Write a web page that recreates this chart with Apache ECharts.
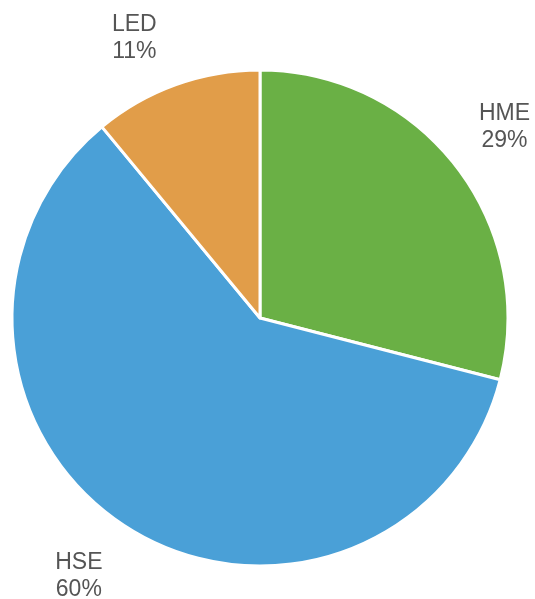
<!DOCTYPE html>
<html>
<head>
<meta charset="utf-8">
<script src="https://cdn.jsdelivr.net/npm/echarts@6/dist/echarts.min.js"></script>
<style>
  html, body { margin: 0; padding: 0; background: #fff; }
  #chart { width: 535px; height: 599px; }
</style>
</head>
<body>
<div id="chart"></div>
<script>
const categories = ['HME', 'HSE', 'LED'];
const values = [29, 60, 11];
const colors = ['#6ab045', '#4aa0d7', '#e19d49'];
// small tweaks so each label sits where the original puts it
const labelPadRight = [4, 28, 40];
const labelGapTop = [0, 0, 28];
const labelGapBottom = [0, 10, 0];

var myChart = echarts.init(document.getElementById('chart'));

const slices = categories.map((c, i) => ({
    name: c,
    value: values[i],
    itemStyle: { color: colors[i] }
}));

// invisible ring used only to place the labels around the pie
const labelRing = categories.map((c, i) => ({
    name: c,
    value: values[i],
    label: {
        padding: [0, labelPadRight[i], 0, 0],
        rich: {
            gt: { lineHeight: labelGapTop[i], fontSize: 1 },
            gb: { lineHeight: labelGapBottom[i], fontSize: 1 }
        }
    }
}));

var option = {
    animation: false,
    series: [
        {
            type: 'pie',
            center: [260, 318],
            radius: 248,
            startAngle: 90,
            clockwise: true,
            silent: true,
            label: { show: false },
            labelLine: { show: false },
            itemStyle: {
                borderColor: '#ffffff',
                borderWidth: 3
            },
            data: slices
        },
        {
            type: 'pie',
            center: [260, 318],
            radius: [290, 328],
            startAngle: 90,
            clockwise: true,
            silent: true,
            itemStyle: { color: 'rgba(0,0,0,0)' },
            labelLine: { show: false },
            label: {
                show: true,
                position: 'inside',
                formatter: function (p) {
                    const i = p.dataIndex;
                    let s = p.name + '\n' + p.value + '%';
                    if (labelGapTop[i]) s = '{gt| }\n' + s;
                    if (labelGapBottom[i]) s = s + '\n{gb| }';
                    return s;
                },
                color: '#555555',
                fontFamily: 'Liberation Sans, Arial, sans-serif',
                fontSize: 23,
                lineHeight: 27,
                align: 'center'
            },
            data: labelRing
        }
    ]
};

myChart.setOption(option);
</script>
</body>
</html>
